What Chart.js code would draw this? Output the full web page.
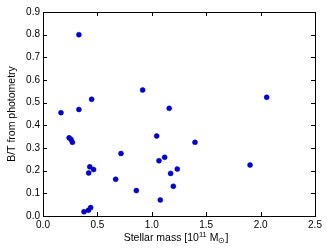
<!DOCTYPE html>
<html>
<head>
<meta charset="utf-8">
<script src="https://cdn.jsdelivr.net/npm/chart.js@4"></script>
<style>
  html, body { margin: 0; padding: 0; background: #fff; }
  #wrap { width: 332px; height: 249px; }
</style>
</head>
<body>
<div id="wrap"><canvas id="c" width="332" height="249"></canvas></div>
<script>
// stellar mass [1e11 Msun] vs photometric B/T
const mass = [0.165, 0.33, 0.33, 0.447, 0.916, 1.16, 2.056, 0.24, 0.258, 0.27,
  0.717, 0.43, 0.42, 0.465, 0.668, 0.858, 1.045, 1.066, 1.118, 1.078,
  1.397, 1.173, 1.234, 1.198, 1.903, 0.377, 0.417, 0.438];
const bt = [0.456, 0.80, 0.47, 0.515, 0.556, 0.475, 0.524, 0.345, 0.338, 0.325,
  0.276, 0.217, 0.19, 0.205, 0.162, 0.112, 0.353, 0.244, 0.259, 0.071,
  0.325, 0.188, 0.207, 0.131, 0.225, 0.019, 0.025, 0.037];
const xTicks = [0.0, 0.5, 1.0, 1.5, 2.0, 2.5];
const yTicks = [0.0, 0.1, 0.2, 0.3, 0.4, 0.5, 0.6, 0.7, 0.8, 0.9];

const FONT = "'Liberation Sans', Arial, sans-serif";

// matplotlib-style box with inward ticks on all four sides
const frame = {
  id: "frame",
  afterDraw(chart) {
    const { ctx, chartArea: a, scales } = chart;
    const len = 4;
    ctx.save();
    ctx.strokeStyle = "#000";
    ctx.lineWidth = 1;
    ctx.beginPath();
    scales.x.ticks.forEach((t) => {
      const px = Math.round(scales.x.getPixelForValue(t.value)) + 0.5;
      ctx.moveTo(px, a.bottom); ctx.lineTo(px, a.bottom - len);
      ctx.moveTo(px, a.top); ctx.lineTo(px, a.top + len);
    });
    scales.y.ticks.forEach((t) => {
      const py = Math.round(scales.y.getPixelForValue(t.value)) + 0.5;
      ctx.moveTo(a.left, py); ctx.lineTo(a.left + len, py);
      ctx.moveTo(a.right, py); ctx.lineTo(a.right - len, py);
    });
    ctx.stroke();
    ctx.strokeRect(Math.round(a.left) + 0.5, Math.round(a.top) + 0.5,
      Math.round(a.right - a.left), Math.round(a.bottom - a.top));
    ctx.restore();
  },
};

// x title with super/subscripts: "Stellar mass [10^11 M_sun]"
const xTitle = {
  id: "xTitle",
  afterDraw(chart) {
    const { ctx } = chart;
    const parts = [
      { t: "Stellar mass [10", s: 10.5, dy: 0 },
      { t: "11", s: 7.5, dy: -4 },
      { t: " M", s: 10.5, dy: 0 },
      { t: "⊙", s: 7.5, dy: 2 },
      { t: "]", s: 10.5, dy: 0 },
    ];
    ctx.save();
    ctx.fillStyle = "#000";
    ctx.textBaseline = "alphabetic";
    let w = 0;
    parts.forEach((p) => { ctx.font = p.s + "px " + FONT; w += ctx.measureText(p.t).width; });
    let x = 176 - w / 2;
    const y = 241;
    parts.forEach((p) => {
      ctx.font = p.s + "px " + FONT;
      ctx.fillText(p.t, x, y + p.dy);
      x += ctx.measureText(p.t).width;
    });
    ctx.restore();
  },
};

new Chart(document.getElementById("c"), {
  type: "scatter",
  data: {
    datasets: [{
      data: mass.map((m, i) => ({ x: m, y: bt[i] })),
      backgroundColor: "#0000e0",
      borderColor: "#000080",
      borderWidth: 0.5,
      pointRadius: 2.5,
    }],
  },
  options: {
    responsive: false,
    animation: false,
    layout: { padding: { top: 12, right: 17, left: 0, bottom: 0 } },
    plugins: { legend: { display: false }, tooltip: { enabled: false } },
    scales: {
      x: {
        type: "linear", min: 0, max: 2.5,
        grid: { display: false, drawTicks: false },
        border: { display: false },
        afterBuildTicks: (s) => { s.ticks = xTicks.map((v) => ({ value: v })); },
        afterFit: (s) => { s.height = 33; },
        ticks: { color: "#000", padding: 3, font: { family: FONT, size: 10 },
          callback: (v) => v.toFixed(1) },
      },
      y: {
        type: "linear", min: 0, max: 0.9,
        grid: { display: false, drawTicks: false },
        border: { display: false },
        afterBuildTicks: (s) => { s.ticks = yTicks.map((v) => ({ value: v })); },
        afterFit: (s) => { s.width = 43; },
        ticks: { color: "#000", padding: 3, font: { family: FONT, size: 10 },
          callback: (v) => v.toFixed(1) },
        title: { display: true, text: "B/T from photometry", color: "#000",
          font: { family: FONT, size: 10.5 }, padding: { top: 6, bottom: 0 } },
      },
    },
  },
  plugins: [frame, xTitle],
});
</script>
</body>
</html>
